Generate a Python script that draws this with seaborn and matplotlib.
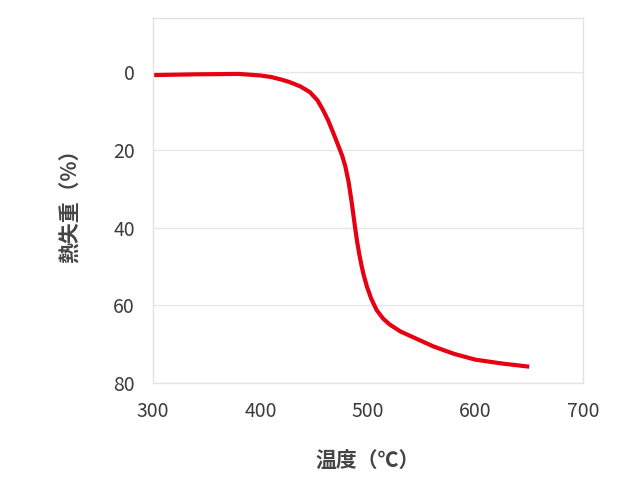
import matplotlib
matplotlib.use("Agg")
import matplotlib.pyplot as plt
import seaborn as sns
import pandas as pd

# TGA curve
temperature = [300, 340, 380, 400, 410, 420, 427, 437, 446, 453, 458, 463, 468, 472, 476,
               479, 482, 485, 488, 490, 492, 494, 496, 499, 503, 508, 514, 520, 530,
               545, 561, 580, 600, 625, 650]
weight_loss = [0.7, 0.5, 0.4, 0.8, 1.2, 1.9, 2.5, 3.6, 5.1, 7.2, 9.6, 12.4, 15.8, 18.6, 21.5,
               24.3, 28.3, 33.8, 40.0, 43.8, 47.0, 49.8, 52.2, 55.2, 58.3, 61.2, 63.4, 64.9, 66.7,
               68.6, 70.6, 72.5, 74.0, 75.0, 75.8]
y_ticks = [0, 20, 40, 60, 80]
x_ticks = [300, 400, 500, 600, 700]

df = pd.DataFrame({"temp": temperature, "loss": weight_loss})

sns.set_style("white")
plt.rcParams["font.family"] = ["Noto Sans CJK JP", "DejaVu Sans"]

fig = plt.figure(figsize=(6.2, 4.91), dpi=100)
ax = fig.add_axes([0.2468, 0.22, 0.6935, 0.7433])

sns.lineplot(data=df, x="temp", y="loss", ax=ax, color="#e60012", linewidth=3.0,
             sort=False, solid_joinstyle="round", solid_capstyle="butt")

ax.set_xlim(300, 700)
ax.set_ylim(80, -14)
ax.set_xticks(x_ticks)
ax.set_yticks(y_ticks)
ax.yaxis.grid(True, color="#e6e6e6", linewidth=1)
ax.xaxis.grid(False)
ax.set_axisbelow(True)
for s in ax.spines.values():
    s.set_color("#e3e3e3")
    s.set_linewidth(1)
ax.tick_params(axis="both", length=0, labelsize=14, labelcolor="#3c3c3c")
ax.tick_params(axis="y", pad=13)
ax.tick_params(axis="x", pad=13)

ax.set_xlabel("温度（℃）", fontsize=15, fontweight="bold", color="#444444", labelpad=21)
ax.set_ylabel("熱失重（%）", fontsize=15, fontweight="bold", color="#444444", labelpad=23)

fig.savefig("out.png", dpi=100)
